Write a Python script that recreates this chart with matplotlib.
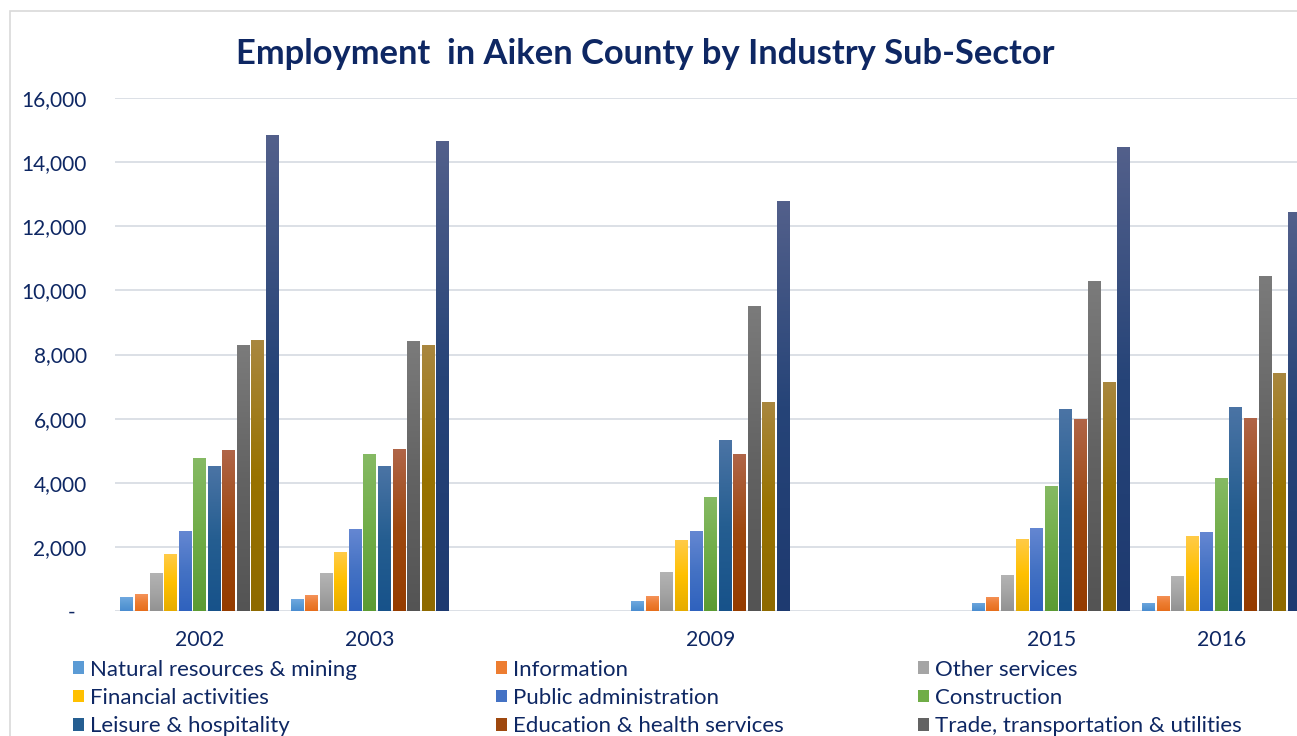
import matplotlib
matplotlib.use('Agg')
import matplotlib.pyplot as plt
import numpy as np
from matplotlib.colors import LinearSegmentedColormap
from matplotlib.patches import Rectangle, Patch

# ---------------- data ----------------
categories = ['2002', '2003', '', '2009', '', '2015', '2016']
series_names = [
    'Natural resources & mining', 'Information', 'Other services',
    'Financial activities', 'Public administration', 'Construction',
    'Leisure & hospitality', 'Education & health services',
    'Trade, transportation & utilities', 'Manufacturing',
    'Professional & business services',
]
nan = np.nan
natural = [430, 370, nan, 305, nan, 265, 265]
information = [515, 485, nan, 465, nan, 445, 475]
other_services = [1200, 1170, nan, 1210, nan, 1130, 1090]
financial = [1765, 1825, nan, 2210, nan, 2250, 2325]
public_admin = [2480, 2545, nan, 2490, nan, 2590, 2450]
construction = [4760, 4890, nan, 3550, nan, 3910, 4150]
leisure = [4510, 4510, nan, 5325, nan, 6290, 6370]
education = [5010, 5040, nan, 4885, nan, 6000, 6035]
trade = [8290, 8415, nan, 9500, nan, 10280, 10440]
manufacturing = [8445, 8290, nan, 6510, nan, 7155, 7415]
professional = [14850, 14660, nan, 12780, nan, 14475, 12450]
all_values = [natural, information, other_services, financial, public_admin,
              construction, leisure, education, trade, manufacturing, professional]

# (top, mid, bottom) gradient colours per series
colors = [
    ('#70A8E0', '#5B9BD5', '#4A8CD0'),
    ('#F5935A', '#ED7D31', '#E66E1C'),
    ('#B4B4B4', '#A5A5A5', '#929292'),
    ('#FFCB48', '#FFC000', '#E6AC00'),
    ('#6587D2', '#4472C4', '#2F62BE'),
    ('#86BA64', '#70AD47', '#5C9B33'),
    ('#4B74A5', '#255E91', '#17528A'),
    ('#B06548', '#9E480E', '#953C00'),
    ('#7B7B7B', '#636363', '#545454'),
    ('#A9873F', '#997300', '#8E6A00'),
    ('#53608B', '#264478', '#1E3A70'),
]

text_color = '#0E2763'
font = 'Lato'
plt.rcParams['font.family'] = [font, 'DejaVu Sans']

W, H = 1297, 736
fig = plt.figure(figsize=(W / 100, H / 100), dpi=100)
fig.patch.set_facecolor('white')

# outer chart border (partially visible)
fig.patches.append(Rectangle((9.5 / W, -0.1), 1.2, 1 - 11 / H + 0.1,
                             transform=fig.transFigure, fill=False,
                             edgecolor='#D9D9D9', linewidth=1.2, zorder=0))

left_px, bottom_px, top_px, cat_px = 114.5, 611, 98, 170.3
ax = fig.add_axes([left_px / W, (H - bottom_px) / H,
                   7 * cat_px / W, (bottom_px - top_px) / H])
ax.set_facecolor('none')

x = np.arange(len(categories))
n = len(series_names)
slot = 0.0854
bw = 0.0763
grad = np.linspace(0, 1, 256).reshape(-1, 1)

for j, (vals, (ctop, cmid, cbot)) in enumerate(zip(all_values, colors)):
    xs = x + (j - (n - 1) / 2) * slot
    bars = ax.bar(xs, vals, width=bw, color=cmid, zorder=3, linewidth=0)
    cmap = LinearSegmentedColormap.from_list('g%d' % j, [cbot, cmid, ctop])
    for b, v in zip(bars, vals):
        if np.isnan(v):
            continue
        x0 = b.get_x()
        im = ax.imshow(grad, extent=[x0, x0 + b.get_width(), 0, v],
                       origin='lower', cmap=cmap, aspect='auto', zorder=3.5,
                       interpolation='bilinear')
        im.set_clip_path(b)

ax.set_xlim(-0.5, len(categories) - 0.5)
ax.set_ylim(0, 16000)
ax.set_aspect('auto')

yt = np.arange(0, 16001, 2000)
ax.set_yticks(yt)
ax.set_yticklabels(['-  '] + ['{:,}'.format(v) for v in yt[1:]])
ax.set_xticks(x)
ax.set_xticklabels(categories)
ax.tick_params(axis='y', length=0, pad=20, labelsize=15, labelcolor=text_color)
ax.tick_params(axis='x', length=0, pad=14, labelsize=15.3, labelcolor=text_color)
ax.yaxis.grid(True, color='#DCE0E6', linewidth=1.4, zorder=0)
ax.set_axisbelow(True)
for s in ax.spines.values():
    s.set_visible(False)

fig.text(645 / W, 1 - 64 / H, 'Employment  in Aiken County by Industry Sub-Sector',
         ha='center', va='baseline', fontsize=24.8, fontweight='bold',
         color=text_color)

# legend: three columns, row-major ordering (only the rows visible in the frame)
handles = [Patch(facecolor=c[1], edgecolor='none') for c in colors]
col_x = [73, 496, 918]
visible = 9
for c in range(3):
    idx = list(range(c, visible, 3))
    fig.legend([handles[i] for i in idx], [series_names[i] for i in idx],
               loc='upper left', bbox_to_anchor=(col_x[c] / W, 1 - 659.5 / H),
               frameon=False, fontsize=16, handlelength=0.5,
               handleheight=0.5, handletextpad=0.27, labelspacing=0.38,
               borderpad=0, borderaxespad=0, labelcolor=text_color)

fig.savefig('out.png', dpi=100)
